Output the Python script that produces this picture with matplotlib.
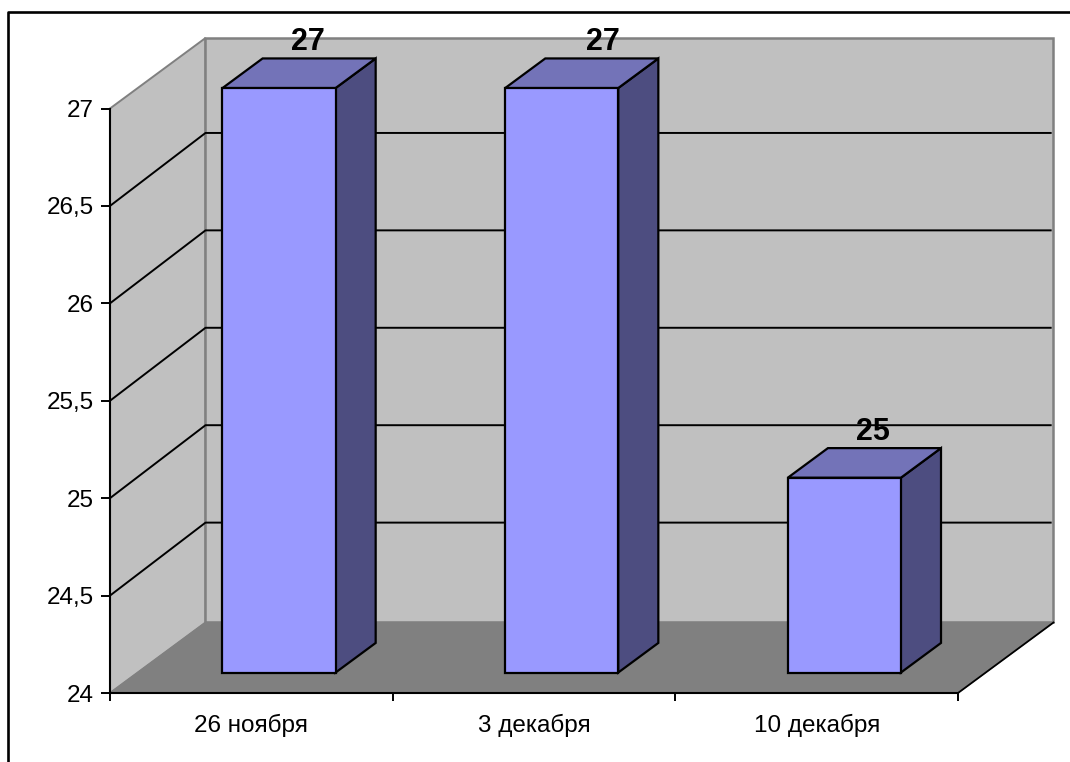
import matplotlib
matplotlib.use('Agg')
import matplotlib.pyplot as plt
from matplotlib.lines import Line2D
from matplotlib.patches import Polygon

plt.rcParams['font.family'] = ['Liberation Sans', 'DejaVu Sans']

categories = ['26 ноября', '3 декабря', '10 декабря']
values = [27, 27, 25]
yticks = [24, 24.5, 25, 25.5, 26, 26.5, 27]
ytick_labels = ['24', '24,5', '25', '25,5', '26', '26,5', '27']
label_shift = [0, 9, 0]   # the middle value label sits further right, in points

W, H = 1070, 762
DX = 95.5 / 282.67   # depth of the box in x data units
DY = 70.5 / 194.83   # depth of the box in y data units
BAR_W = 0.40
FRONT = 0.29
BACK = 0.71


def proj(x, y, d):
    return (x + d * DX, y + d * DY)


def face(ax, pts, fc, ec, lw, z):
    ax.add_patch(Polygon(pts, closed=True, facecolor=fc, edgecolor=ec, linewidth=lw,
                         joinstyle='miter', clip_on=False, zorder=z))


fig = plt.figure(figsize=(W / 100, H / 100), dpi=100, facecolor='white')
ax = fig.add_axes([110 / W, 1 - 693 / H, 848 / W, 584.5 / H])
ax.set_xlim(0, 3)
ax.set_ylim(24, 27)
ax.patch.set_visible(False)

# left wall, back wall, floor
face(ax, [proj(0, 24, 0), proj(0, 27, 0), proj(0, 27, 1), proj(0, 24, 1)], '#c0c0c0', '#808080', 1.4, 1)
face(ax, [proj(0, 24, 1), proj(0, 27, 1), proj(3, 27, 1), proj(3, 24, 1)], '#c0c0c0', '#808080', 1.8, 1)
face(ax, [proj(0, 24, 0), proj(0, 24, 1), proj(3, 24, 1), proj(3, 24, 0)], '#808080', '#808080', 0.8, 1.5)
ax.plot(*zip(proj(3, 24, 0), proj(3, 24, 1)), color='black', lw=1.3, clip_on=False, zorder=2)

# gridlines, a little above the true depth as in the original
for t in yticks[1:-1]:
    bx, by = proj(0, t, 1)
    by += 0.035 * DY
    ax.plot([0, bx, proj(2.99, t, 1)[0]], [t, by, by], color='black', lw=1.4, clip_on=False, zorder=2)

# bars
for i, v in enumerate(values):
    x0 = i + 0.5 - BAR_W / 2
    x1 = i + 0.5 + BAR_W / 2
    face(ax, [proj(x1, 24, FRONT), proj(x1, v, FRONT), proj(x1, v, BACK), proj(x1, 24, BACK)],
         '#4d4d80', 'black', 1.6, 3)
    face(ax, [proj(x0, v, FRONT), proj(x1, v, FRONT), proj(x1, v, BACK), proj(x0, v, BACK)],
         '#7373b8', 'black', 1.6, 3)
    face(ax, [proj(x0, 24, FRONT), proj(x1, 24, FRONT), proj(x1, v, FRONT), proj(x0, v, FRONT)],
         '#9999ff', 'black', 1.6, 4)
    lx, ly = proj(i + 0.5, v, 0.59)
    ax.annotate(str(v), (lx, ly), xytext=(label_shift[i], 7), textcoords='offset points', ha='center',
                va='bottom', fontsize=22, fontweight='bold', color='black', zorder=5,
                annotation_clip=False)

# axes
for s in ['top', 'right']:
    ax.spines[s].set_visible(False)
for s in ['left', 'bottom']:
    ax.spines[s].set_linewidth(1.5)
    ax.spines[s].set_zorder(6)
ax.set_yticks(yticks)
ax.set_yticklabels(ytick_labels, fontsize=17.5)
ax.tick_params(axis='y', length=6.5, width=1.4, pad=5)
ax.set_xticks([0, 1, 2, 3])
ax.set_xticklabels([])
ax.tick_params(axis='x', which='major', length=6, width=1.4)
ax.set_xticks([0.5, 1.5, 2.5], minor=True)
ax.set_xticklabels(categories, minor=True, fontsize=17.5)
ax.tick_params(axis='x', which='minor', length=0, pad=15)

# frame, cut off on the right and at the bottom
fig.add_artist(Line2D([8 / W, 8 / W, 1], [0, 1 - 12 / H, 1 - 12 / H], color='black', lw=1.9))

fig.savefig('out.png', dpi=100)
